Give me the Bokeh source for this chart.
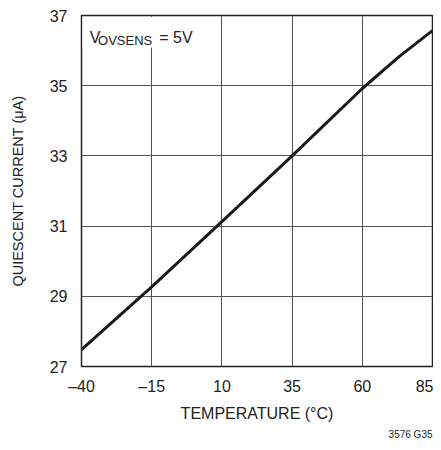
from bokeh.plotting import figure
from bokeh.models import Range1d, FixedTicker, Label, BoxAnnotation, Title
from bokeh.embed import file_html
from bokeh.resources import INLINE

# data
temperature_c = [-40, -15, 10, 35, 60, 73, 85]
quiescent_ua = [27.48, 29.27, 31.13, 33.0, 34.92, 35.82, 36.57]

x_ticks = [-40, -15, 10, 35, 60, 85]
x_tick_labels = ["\u201340", "\u201315", "10", "35", "60", "85"]
y_ticks = [27, 29, 31, 33, 35, 37]
y_tick_labels = ["27", "29", "31", "33", "35", "37"]

FONT = "Liberation Sans"

p = figure(width=433, height=442, output_backend="svg", toolbar_location=None,
           x_range=Range1d(-40, 85), y_range=Range1d(27, 37),
           min_border_left=81, min_border_right=1, min_border_top=15, min_border_bottom=76)

p.outline_line_color = "#222222"
p.outline_line_width = 1.5
p.background_fill_color = "white"
p.border_fill_color = "white"

for ax, ticks, labels in ((p.xaxis[0], x_ticks, x_tick_labels), (p.yaxis[0], y_ticks, y_tick_labels)):
    ax.ticker = FixedTicker(ticks=ticks)
    ax.major_label_overrides = {t: l for t, l in zip(ticks, labels)}
    ax.axis_line_color = None
    ax.major_tick_line_color = None
    ax.minor_tick_line_color = None
    ax.major_tick_out = 0
    ax.major_tick_in = 0
    ax.minor_tick_out = 0
    ax.minor_tick_in = 0
    ax.major_label_text_font = FONT
    ax.major_label_text_font_size = "16px"
    ax.major_label_text_color = "#222222"
    ax.axis_label_text_font = FONT
    ax.axis_label_text_font_style = "normal"
    ax.axis_label_text_color = "#222222"

p.xaxis.axis_label = "TEMPERATURE (\u00b0C)"
p.yaxis.axis_label = "QUIESCENT CURRENT (\u03bcA)"
p.xaxis.axis_label_text_font_size = "16px"
p.yaxis.axis_label_text_font_size = "14.5px"
p.xaxis.major_label_standoff = 11
p.yaxis.major_label_standoff = 14
p.xaxis.axis_label_standoff = 7
p.yaxis.axis_label_standoff = 21

p.xgrid.ticker = FixedTicker(ticks=x_ticks)
p.ygrid.ticker = FixedTicker(ticks=y_ticks)
for g in (p.xgrid[0], p.ygrid[0]):
    g.grid_line_color = "#555555"
    g.grid_line_width = 1
    g.grid_line_alpha = 1

p.line(temperature_c, quiescent_ua, line_color="#1a1a1a", line_width=3)

p.add_layout(BoxAnnotation(left=-39.6, right=0, bottom=36.09, top=36.96,
                           fill_color="white", fill_alpha=1, line_color=None))

p.add_layout(Label(x=-37.1, y=36.37, text="V", text_font=FONT, text_font_size="16px",
                   text_color="#222222", text_baseline="alphabetic"))
p.add_layout(Label(x=-34.1, y=36.28, text="OVSENS", text_font=FONT, text_font_size="13px",
                   text_color="#222222", text_baseline="alphabetic"))
p.add_layout(Label(x=-12.3, y=36.37, text="= 5V", text_font=FONT, text_font_size="16px",
                   text_color="#222222", text_baseline="alphabetic"))

p.add_layout(Title(text="3576 G35", align="right", text_font=FONT, text_font_size="10px",
                   text_font_style="normal", text_color="#222222", standoff=4), "below")

open("out.html", "w").write(file_html(p, INLINE))
